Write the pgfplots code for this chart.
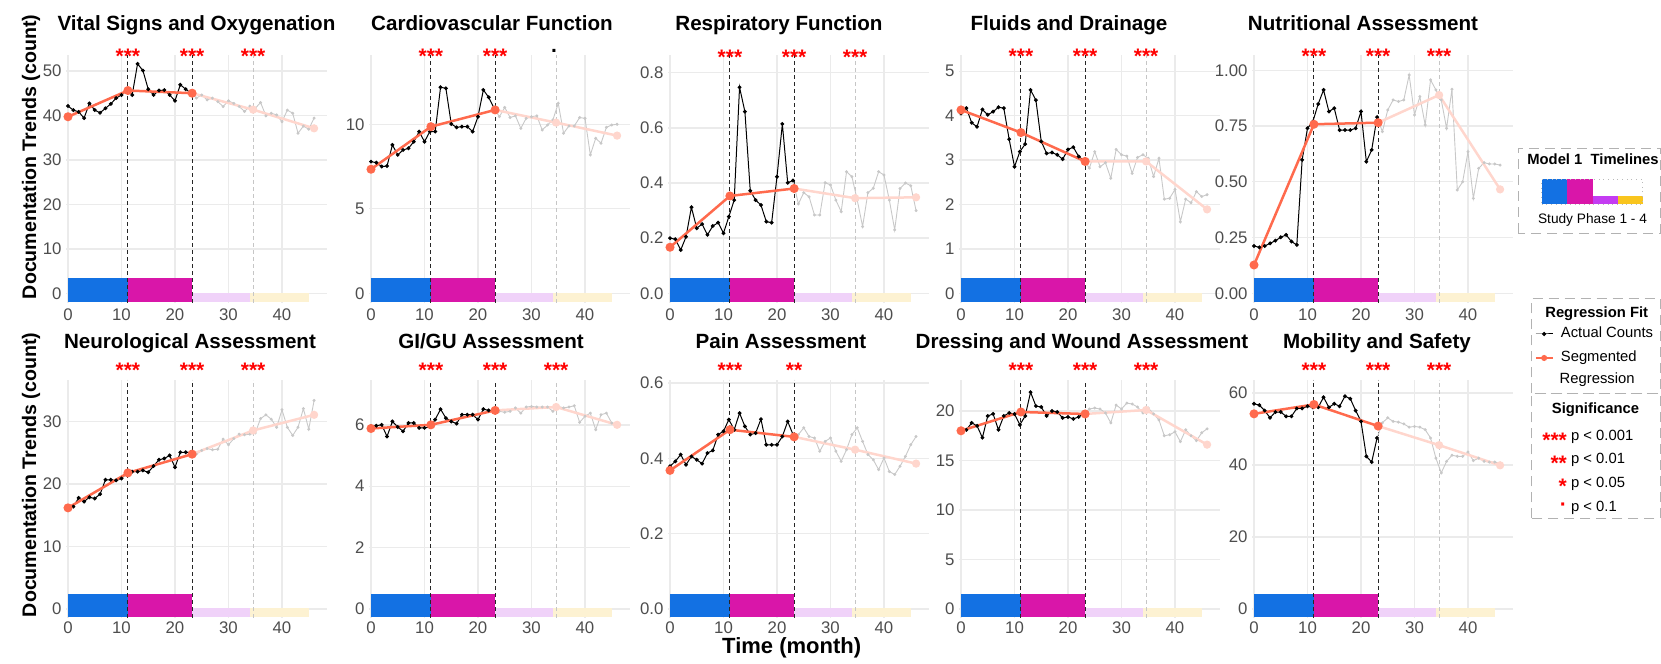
\documentclass[border=0pt]{standalone}
\usepackage{fontspec}
\setmainfont{Liberation Sans}
\usepackage{pgfplots}
\pgfplotsset{compat=1.18}

\definecolor{phA}{HTML}{1371E3}
\definecolor{phB}{HTML}{D916A9}
\definecolor{phC}{HTML}{F0D2F9}
\definecolor{phD}{HTML}{FDF2D2}
\definecolor{phClg}{HTML}{C43CF2}
\definecolor{phDlg}{HTML}{F9C51E}
\definecolor{regc}{HTML}{FF6A4D}
\definecolor{regp}{HTML}{FFD6CD}
\definecolor{greyd}{HTML}{C8C8C8}
\definecolor{gridc}{HTML}{EBEBEB}
\definecolor{tickc}{HTML}{4D4D4D}

\newcommand{\tickfont}{\fontsize{8.4}{10}\selectfont}
\newcommand{\tfont}{\fontsize{10.3}{12}\selectfont\bfseries}
\newcommand{\starfont}{\fontsize{10.5}{12}\selectfont\bfseries}
\newcommand{\legfont}{\fontsize{7.4}{9}\selectfont}
\newcommand{\legbold}{\fontsize{7.4}{9}\selectfont\bfseries}

\pgfplotsset{
  panel/.style={
    scale only axis, width=130.8pt, clip=false,
    xmin=-0.4, xmax=48.5,
    axis line style={draw=none},
    major tick length=0pt,
    grid=major, major grid style={draw=gridc, line width=0.7pt},
    xtick={0,10,20,30,40}, xticklabels={0,10,20,30,40},
    tick label style={font=\tickfont, text=tickc},
    yticklabel style={xshift=1.35pt},
    anchor=south west,
  },
  row1/.style={height=124pt, xticklabel style={yshift=0.8pt}},
  row2/.style={height=119pt, xticklabel style={yshift=1.5pt}},
  blk/.style={black, line width=0.5pt, mark=*, mark size=0.7pt},
  gry/.style={greyd, line width=0.45pt, mark=*, mark size=0.5pt},
  reg/.style={regc, line width=1.25pt, mark=*, mark size=1.6pt},
  regl/.style={regp, line width=1.25pt, mark=*, mark size=1.4pt},
}

\newcommand{\phases}[5]{%
\addplot[draw=none,fill=phA] coordinates {(0,#3)(11.2,#3)(11.2,#5)(0,#5)} -- cycle;
\addplot[draw=none,fill=phB] coordinates {(11.2,#3)(23.1,#3)(23.1,#5)(11.2,#5)} -- cycle;
\addplot[draw=none,fill=phC] coordinates {(23.1,#3)(34,#3)(34,#4)(23.1,#4)} -- cycle;
\addplot[draw=none,fill=phD] coordinates {(34,#3)(45,#3)(45,#4)(34,#4)} -- cycle;
\addplot[black!85, line width=0.5pt, dash pattern=on 2pt off 1.5pt] coordinates {(11.2,#1)(11.2,#2)};
\addplot[black!85, line width=0.5pt, dash pattern=on 2pt off 1.5pt] coordinates {(23.2,#1)(23.2,#2)};
\addplot[gray!45, line width=0.5pt, dash pattern=on 2pt off 1.5pt] coordinates {(34.6,#1)(34.6,#2)};
}
\newcommand{\sig}[3]{\node[sigstar] at (axis cs:#1,#2) {#3};}

\begin{document}
\begin{tikzpicture}
\useasboundingbox (0,0) rectangle (830.5pt,332pt);
\tikzset{sigstar/.style={anchor=base, font=\starfont, text=red, inner sep=0pt, yshift=-4.5pt}}

% ---------------- Row 1 ----------------
\begin{axis}[panel, row1, at={(32.93pt,180.5pt)}, ymin=-2.18, ymax=53.59,
  ytick={0,10,20,30,40,50}, yticklabels={0,10,20,30,40,50}]
\phases{-2.18}{53.59}{-1.89}{0.05}{3.44}
\addplot[gry] coordinates {(23,45.0)(24,43.9)(25,44.6)(26,43.5)(27,43.9)(28,43.1)(29,42.0)(30,43.3)(31,42.7)(32,42.0)(33,40.9)(34,42.1)(35,41.6)(36,42.9)(37,39.9)(38,40.5)(39,40.1)(40,38.6)(41,41.2)(42,40.5)(43,36.0)(44,37.6)(45,36.9)(46,39.4)};
\addplot[regl] coordinates {(23.2,45.0)(34.6,41.3)(46,37.1)};
\addplot[blk] coordinates {(0,42.1)(1,41.2)(2,40.8)(3,39.4)(4,42.7)(5,41.2)(6,40.6)(7,41.6)(8,42.6)(9,43.9)(10,44.6)(11,45.9)(12,44.6)(13,51.6)(14,50.1)(15,45.9)(16,44.6)(17,45.6)(18,45.7)(19,44.6)(20,43.3)(21,46.9)(22,45.9)(23,45.0)};
\addplot[reg] coordinates {(0,39.7)(11.2,45.6)(23.2,45.0)};
\sig{11.2}{53.59}{***}\sig{23.2}{53.59}{***}\sig{34.6}{53.59}{***}
\end{axis}

\begin{axis}[panel, row1, at={(184.43pt,180.5pt)}, ymin=-0.574, ymax=14.10,
  ytick={0,5,10}, yticklabels={0,5,10}]
\phases{-0.574}{14.10}{-0.497}{0.01}{0.905}
\addplot[gry] coordinates {(23,10.95)(24,10.45)(25,11.0)(26,10.4)(27,10.5)(28,9.76)(29,10.35)(30,10.45)(31,10.5)(32,9.66)(33,9.96)(34,10.26)(35,11.24)(36,9.47)(37,9.9)(38,9.9)(39,10.4)(40,10.35)(41,8.19)(42,9.17)(43,8.88)(44,9.82)(45,9.96)(46,10.0)};
\addplot[regl] coordinates {(23.2,10.85)(34.6,10.1)(46,9.33)};
\addplot[blk] coordinates {(0,7.79)(1,7.73)(2,7.5)(3,7.53)(4,8.78)(5,8.19)(6,8.48)(7,8.58)(8,8.97)(9,9.57)(10,8.97)(11,9.57)(12,9.57)(13,12.19)(14,12.13)(15,10.02)(16,9.82)(17,9.86)(18,9.86)(19,9.57)(20,10.45)(21,12.03)(22,11.6)(23,10.95)};
\addplot[reg] coordinates {(0,7.34)(11.2,9.86)(23.2,10.85)};
\sig{11.2}{14.10}{***}\sig{23.2}{14.10}{***}
\node[anchor=base, font=\starfont, text=black, inner sep=0pt, yshift=1pt] at (axis cs:34.2,14.10) {.};
\end{axis}

\begin{axis}[panel, row1, at={(333.93pt,180.5pt)}, ymin=-0.0352, ymax=0.8642,
  ytick={0,0.2,0.4,0.6,0.8}, yticklabels={0.0,0.2,0.4,0.6,0.8}]
\phases{-0.0352}{0.8642}{-0.0305}{0.001}{0.0555}
\addplot[gry] coordinates {(23,0.409)(24,0.324)(25,0.365)(26,0.35)(27,0.284)(28,0.284)(29,0.401)(30,0.393)(31,0.338)(32,0.296)(33,0.441)(34,0.423)(35,0.338)(36,0.242)(37,0.365)(38,0.381)(39,0.441)(40,0.429)(41,0.338)(42,0.23)(43,0.38)(44,0.40)(45,0.39)(46,0.30)};
\addplot[regl] coordinates {(23.2,0.38)(34.6,0.345)(46,0.348)};
\addplot[blk] coordinates {(0,0.2)(1,0.196)(2,0.157)(3,0.205)(4,0.312)(5,0.236)(6,0.251)(7,0.212)(8,0.244)(9,0.256)(10,0.218)(11,0.278)(12,0.338)(13,0.747)(14,0.659)(15,0.372)(16,0.338)(17,0.32)(18,0.26)(19,0.256)(20,0.423)(21,0.614)(22,0.401)(23,0.409)};
\addplot[reg] coordinates {(0,0.167)(11.2,0.353)(23.2,0.38)};
\sig{11.2}{0.8642}{***}\sig{23.2}{0.8642}{***}\sig{34.6}{0.8642}{***}
\end{axis}

\begin{axis}[panel, row1, at={(479.43pt,180.5pt)}, ymin=-0.2185, ymax=5.367,
  ytick={0,1,2,3,4,5}, yticklabels={0,1,2,3,4,5}]
\phases{-0.2185}{5.367}{-0.189}{0.005}{0.345}
\addplot[gry] coordinates {(23,2.99)(24,2.82)(25,3.19)(26,2.85)(27,2.94)(28,2.59)(29,3.24)(30,3.12)(31,3.09)(32,2.7)(33,3.06)(34,3.12)(35,3.04)(36,2.63)(37,3.04)(38,2.12)(39,2.14)(40,2.34)(41,1.61)(42,2.12)(43,2.04)(44,2.29)(45,2.18)(46,2.22)};
\addplot[regl] coordinates {(23.2,2.97)(34.6,2.97)(46,1.89)};
\addplot[blk] coordinates {(0,4.05)(1,4.17)(2,3.84)(3,3.75)(4,4.14)(5,4.02)(6,4.09)(7,4.19)(8,4.17)(9,3.47)(10,2.85)(11,3.19)(12,3.36)(13,4.58)(14,4.35)(15,3.42)(16,3.15)(17,3.17)(18,3.12)(19,3.02)(20,3.24)(21,3.29)(22,3.08)(23,2.99)};
\addplot[reg] coordinates {(0,4.13)(11.2,3.62)(23.2,2.97)};
\sig{11.2}{5.367}{***}\sig{23.2}{5.367}{***}\sig{34.6}{5.367}{***}
\end{axis}

\begin{axis}[panel, row1, at={(625.93pt,180.5pt)}, ymin=-0.0435, ymax=1.0686,
  ytick={0,0.25,0.5,0.75,1}, yticklabels={0.00,0.25,0.50,0.75,1.00}]
\phases{-0.0435}{1.0686}{-0.0377}{0.001}{0.0686}
\addplot[gry] coordinates {(23,0.79)(24,0.725)(25,0.822)(26,0.867)(27,0.86)(28,0.867)(29,0.979)(30,0.8)(31,0.882)(32,0.755)(33,0.957)(34,0.912)(35,0.867)(36,0.74)(37,0.915)(38,0.463)(39,0.5)(40,0.635)(41,0.426)(42,0.56)(43,0.586)(44,0.58)(45,0.58)(46,0.575)};
\addplot[regl] coordinates {(23.2,0.765)(34.6,0.889)(46,0.466)};
\addplot[blk] coordinates {(0,0.212)(1,0.206)(2,0.212)(3,0.224)(4,0.236)(5,0.251)(6,0.262)(7,0.232)(8,0.217)(9,0.598)(10,0.74)(11,0.77)(12,0.849)(13,0.912)(14,0.815)(15,0.83)(16,0.732)(17,0.732)(18,0.732)(19,0.74)(20,0.815)(21,0.59)(22,0.643)(23,0.79)};
\addplot[reg] coordinates {(0,0.127)(11.2,0.758)(23.2,0.765)};
\sig{11.2}{1.0686}{***}\sig{23.2}{1.0686}{***}\sig{34.6}{1.0686}{***}
\end{axis}

% ---------------- Row 2 ----------------
\tikzset{sigstar/.style={anchor=base, font=\starfont, text=red, inner sep=0pt, yshift=1pt}}

\begin{axis}[panel, row2, at={(32.93pt,23pt)}, ymin=-1.44, ymax=36.68,
  ytick={0,10,20,30}, yticklabels={0,10,20,30}]
\phases{-1.44}{36.68}{-1.33}{0.16}{2.40}
\addplot[gry] coordinates {(23,25.1)(24,24.8)(25,25.4)(26,25.7)(27,25.5)(28,25.6)(29,27.2)(30,26.3)(31,27.3)(32,28.0)(33,27.9)(34,28.0)(35,28.2)(36,30.5)(37,31.1)(38,30.4)(39,29.1)(40,31.9)(41,29.1)(42,27.8)(43,29.1)(44,32.1)(45,28.8)(46,33.4)};
\addplot[regl] coordinates {(23.2,24.8)(34.6,28.6)(46,31.1)};
\addplot[blk] coordinates {(0,16.3)(1,16.4)(2,17.8)(3,17.2)(4,17.9)(5,17.7)(6,18.4)(7,20.7)(8,20.7)(9,20.6)(10,20.9)(11,21.8)(12,22.0)(13,22.0)(14,22.2)(15,21.9)(16,22.9)(17,23.9)(18,24.1)(19,24.6)(20,22.7)(21,25.1)(22,25.1)(23,25.1)};
\addplot[reg] coordinates {(0,16.2)(11.2,21.8)(23.2,24.8)};
\sig{11.2}{36.68}{***}\sig{23.2}{36.68}{***}\sig{34.6}{36.68}{***}
\end{axis}

\begin{axis}[panel, row2, at={(184.43pt,23pt)}, ymin=-0.293, ymax=7.46,
  ytick={0,2,4,6}, yticklabels={0,2,4,6}]
\phases{-0.293}{7.46}{-0.27}{0.03}{0.49}
\addplot[gry] coordinates {(23,6.47)(24,6.44)(25,6.41)(26,6.44)(27,6.55)(28,6.38)(29,6.58)(30,6.6)(31,6.58)(32,6.58)(33,6.58)(34,6.44)(35,6.6)(36,6.55)(37,6.58)(38,6.62)(39,6.08)(40,6.28)(41,6.38)(42,5.84)(43,6.33)(44,6.38)(45,6.06)(46,5.97)};
\addplot[regl] coordinates {(23.2,6.47)(34.6,6.58)(46,6.0)};
\addplot[blk] coordinates {(0,5.95)(1,5.97)(2,6.0)(3,5.62)(4,6.11)(5,5.93)(6,5.79)(7,6.06)(8,6.06)(9,5.9)(10,5.9)(11,5.93)(12,6.17)(13,6.51)(14,6.22)(15,6.11)(16,6.04)(17,6.33)(18,6.33)(19,6.33)(20,6.17)(21,6.51)(22,6.47)(23,6.47)};
\addplot[reg] coordinates {(0,5.88)(11.2,6.0)(23.2,6.47)};
\sig{11.2}{7.46}{***}\sig{23.2}{7.46}{***}\sig{34.6}{7.46}{***}
\end{axis}

\begin{axis}[panel, row2, at={(333.93pt,23pt)}, ymin=-0.0239, ymax=0.608,
  ytick={0,0.2,0.4,0.6}, yticklabels={0.0,0.2,0.4,0.6}]
\phases{-0.0239}{0.608}{-0.022}{0.0027}{0.0398}
\addplot[gry] coordinates {(23,0.463)(24,0.463)(25,0.481)(26,0.458)(27,0.454)(28,0.419)(29,0.445)(30,0.454)(31,0.419)(32,0.392)(33,0.423)(34,0.463)(35,0.481)(36,0.445)(37,0.41)(38,0.396)(39,0.37)(40,0.401)(41,0.365)(42,0.357)(43,0.379)(44,0.405)(45,0.436)(46,0.458)};
\addplot[regl] coordinates {(23.2,0.457)(34.6,0.423)(46,0.386)};
\addplot[blk] coordinates {(0,0.379)(1,0.392)(2,0.41)(3,0.383)(4,0.405)(5,0.396)(6,0.386)(7,0.414)(8,0.421)(9,0.463)(10,0.472)(11,0.503)(12,0.476)(13,0.52)(14,0.485)(15,0.463)(16,0.467)(17,0.504)(18,0.436)(19,0.436)(20,0.436)(21,0.458)(22,0.498)(23,0.463)};
\addplot[reg] coordinates {(0,0.368)(11.2,0.476)(23.2,0.457)};
\sig{11.2}{0.608}{***}\sig{23.2}{0.608}{**}
\end{axis}

\begin{axis}[panel, row2, at={(479.43pt,23pt)}, ymin=-0.909, ymax=23.13,
  ytick={0,5,10,15,20}, yticklabels={0,5,10,15,20}]
\phases{-0.909}{23.13}{-0.84}{0.1}{1.52}
\addplot[gry] coordinates {(23,19.8)(24,20.2)(25,20.3)(26,20.2)(27,19.8)(28,18.8)(29,20.6)(30,20.2)(31,20.8)(32,20.7)(33,20.4)(34,19.8)(35,20.3)(36,19.7)(37,19.1)(38,17.5)(39,17.6)(40,17.9)(41,16.9)(42,18.1)(43,17.5)(44,17.0)(45,17.8)(46,18.2)};
\addplot[regl] coordinates {(23.2,19.7)(34.6,20.1)(46,16.6)};
\addplot[blk] coordinates {(0,18.0)(1,18.1)(2,18.8)(3,18.5)(4,17.3)(5,19.5)(6,19.7)(7,18.1)(8,19.5)(9,19.8)(10,19.7)(11,18.6)(12,19.5)(13,21.9)(14,20.5)(15,20.4)(16,19.5)(17,20.0)(18,19.9)(19,19.3)(20,19.4)(21,19.2)(22,19.4)(23,19.8)};
\addplot[reg] coordinates {(0,18.0)(11.2,19.9)(23.2,19.7)};
\sig{11.2}{23.13}{***}\sig{23.2}{23.13}{***}\sig{34.6}{23.13}{***}
\end{axis}

\begin{axis}[panel, row2, at={(625.93pt,23pt)}, ymin=-2.5, ymax=63.6,
  ytick={0,20,40,60}, yticklabels={0,20,40,60}]
\phases{-2.5}{63.6}{-2.3}{0.28}{4.17}
\addplot[gry] coordinates {(23,47.5)(24,51.7)(25,53.1)(26,52.1)(27,51.9)(28,51.4)(29,50.5)(30,50.7)(31,50.5)(32,49.8)(33,47.5)(34,41.9)(35,37.8)(36,41.0)(37,42.7)(38,42.4)(39,42.4)(40,43.6)(41,41.2)(42,41.9)(43,41.0)(44,40.8)(45,40.8)(46,40.5)};
\addplot[regl] coordinates {(23.2,50.8)(34.6,45.5)(46,39.9)};
\addplot[blk] coordinates {(0,57.0)(1,56.6)(2,55.1)(3,53.1)(4,54.7)(5,54.7)(6,53.5)(7,53.5)(8,55.7)(9,55.7)(10,56.3)(11,56.0)(12,56.0)(13,58.8)(14,56.0)(15,57.0)(16,56.3)(17,59.1)(18,58.4)(19,55.1)(20,52.1)(21,42.4)(22,40.8)(23,47.5)};
\addplot[reg] coordinates {(0,54.2)(11.2,56.8)(23.2,50.8)};
\sig{11.2}{63.6}{***}\sig{23.2}{63.6}{***}\sig{34.6}{63.6}{***}
\end{axis}

% ---------------- Legend: timeline bar ----------------
\begin{axis}[at={(770.85pt,230pt)}, anchor=south west, scale only axis,
  width=50.5pt, height=12.35pt, hide axis, xmin=0, xmax=4, ymin=0, ymax=1, clip=false]
\addplot[draw=none, fill=phA] coordinates {(0,0)(1,0)(1,1)(0,1)} -- cycle;
\addplot[draw=none, fill=phB] coordinates {(1,0)(2.05,0)(2.05,1)(1,1)} -- cycle;
\addplot[draw=none, fill=phClg] coordinates {(2.05,0)(3.02,0)(3.02,0.33)(2.05,0.33)} -- cycle;
\addplot[draw=none, fill=phDlg] coordinates {(3.02,0)(4,0)(4,0.33)(3.02,0.33)} -- cycle;
\addplot[gray!55, line width=0.35pt, dotted] coordinates {(0,0)(4,0)(4,1)(0,1)} -- cycle;
\end{axis}

% ---------------- Legend: regression fit ----------------
\begin{axis}[at={(765.85pt,135.35pt)}, anchor=south west, scale only axis,
  width=64.15pt, height=47.5pt, hide axis, xmin=0, xmax=1, ymin=0, ymax=1,
  legend cell align=left,
  legend style={at={(axis description cs:0.0257,0.698)}, anchor=north west,
    draw=none, fill=none, inner sep=0pt, outer sep=0pt, font=\legfont,
    row sep=5pt, cells={anchor=west},
    nodes={inner sep=0pt, text height=5.5pt, text depth=1.5pt},
    /tikz/every odd column/.style={column sep=3.8pt}},
  legend image code/.code={\draw[#1, mark repeat=2, mark phase=2] plot coordinates {(0pt,0pt) (4.175pt,0pt) (8.35pt,0pt)};}]
\addlegendimage{black, line width=0.5pt, mark=*, mark size=0.8pt}
\addlegendentry{Actual Counts}
\addlegendimage{regc, line width=0.8pt, mark=*, mark size=1.1pt}
\addlegendentry{Segmented}
\end{axis}

% ---------------- Titles and labels ----------------
\node[anchor=base, font=\tfont] at (98.25pt,316.5pt) {Vital Signs and Oxygenation};
\node[anchor=base, font=\tfont] at (246pt,316.5pt) {Cardiovascular Function};
\node[anchor=base, font=\tfont] at (389.5pt,316.5pt) {Respiratory Function};
\node[anchor=base, font=\tfont] at (534.5pt,316.5pt) {Fluids and Drainage};
\node[anchor=base, font=\tfont] at (681.5pt,316.5pt) {Nutritional Assessment};
\node[anchor=base, font=\tfont] at (95pt,157.85pt) {Neurological Assessment};
\node[anchor=base, font=\tfont] at (245.5pt,157.85pt) {GI/GU Assessment};
\node[anchor=base, font=\tfont] at (390.5pt,157.85pt) {Pain Assessment};
\node[anchor=base, font=\tfont] at (541pt,157.85pt) {Dressing and Wound Assessment};
\node[anchor=base, font=\tfont] at (688.5pt,157.85pt) {Mobility and Safety};

\node[rotate=90, font=\fontsize{9.8}{11}\selectfont\bfseries] at (15.5pt,253.5pt) {Documentation Trends (count)};
\node[rotate=90, font=\fontsize{9.8}{11}\selectfont\bfseries] at (15.5pt,94.5pt) {Documentation Trends (count)};
\node[anchor=base, font=\fontsize{11}{13}\selectfont\bfseries] at (395.85pt,5pt) {Time (month)};

% legend boxes and texts
\draw[gray!60, line width=0.4pt, dash pattern=on 5pt off 3pt] (759pt,215.5pt) rectangle (830.3pt,258pt);
\node[anchor=base, font=\legbold] at (796.5pt,249.5pt) {Model 1~~Timelines};
\node[anchor=base, font=\fontsize{6.85}{8}\selectfont] at (796.25pt,220.35pt) {Study Phase 1 - 4};

\draw[gray!60, line width=0.4pt, dash pattern=on 5pt off 3pt] (765.85pt,135.35pt) rectangle (830pt,182.85pt);
\draw[gray!60, line width=0.4pt, dash pattern=on 5pt off 3pt] (765.85pt,72.85pt) rectangle (830pt,135.35pt);
\node[anchor=base, font=\legbold] at (798.35pt,173.3pt) {Regression Fit};
\node[anchor=base west, font=\legfont, inner sep=0pt] at (779.65pt,140pt) {Regression};
\node[anchor=base, font=\legbold] at (797.75pt,125pt) {Significance};

\node[anchor=base east, font=\starfont, text=red, inner sep=0pt] at (783.65pt,108.45pt) {***};
\node[anchor=base west, font=\legfont, inner sep=0pt] at (785.35pt,111.65pt) {p < 0.001};
\node[anchor=base east, font=\starfont, text=red, inner sep=0pt] at (783.65pt,96.8pt) {**};
\node[anchor=base west, font=\legfont, inner sep=0pt] at (785.35pt,100pt) {p < 0.01};
\node[anchor=base east, font=\starfont, text=red, inner sep=0pt] at (783.65pt,85.15pt) {*};
\node[anchor=base west, font=\legfont, inner sep=0pt] at (785.35pt,88.35pt) {p < 0.05};
\node[anchor=base east, font=\starfont, text=red, inner sep=0pt] at (783.65pt,76.15pt) {·};
\node[anchor=base west, font=\legfont, inner sep=0pt] at (785.35pt,76.15pt) {p < 0.1};
\end{tikzpicture}
\end{document}
